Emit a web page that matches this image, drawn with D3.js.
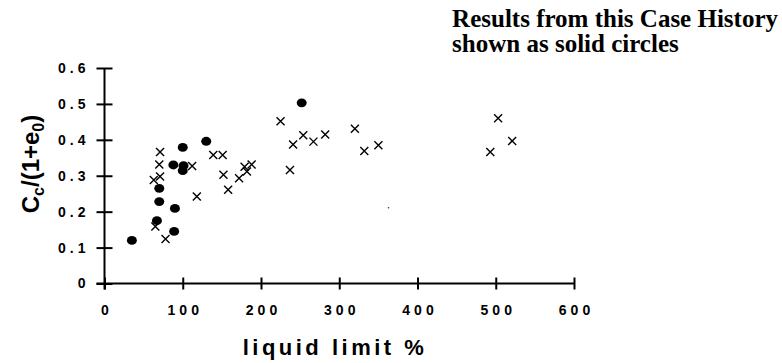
<!DOCTYPE html>
<html><head><meta charset="utf-8">
<script src="https://cdn.jsdelivr.net/npm/d3@7"></script>
<style>
html,body{margin:0;padding:0;background:#fff;}
svg{display:block;}
</style></head>
<body>
<script>
// Data
const caseLL = [35, 67, 70, 70, 89, 90, 88, 100, 101, 100, 130, 252];
const caseCc = [0.12, 0.175, 0.228, 0.265, 0.145, 0.209, 0.330, 0.379, 0.328, 0.314, 0.396, 0.503];
const otherLL = [65, 78, 63, 71, 70, 71, 112, 118, 139, 151, 152, 158, 172, 179, 182, 188, 225, 237, 241, 254, 267, 282, 320, 332, 350, 493, 503, 521];
const otherCc = [0.159, 0.124, 0.288, 0.298, 0.331, 0.366, 0.327, 0.242, 0.358, 0.358, 0.303, 0.261, 0.293, 0.325, 0.312, 0.331, 0.452, 0.316, 0.387, 0.413, 0.395, 0.415, 0.431, 0.369, 0.385, 0.366, 0.460, 0.397];
const strayLL = [363];
const strayCc = [0.211];
const xTicks = [0, 100, 200, 300, 400, 500, 600];
const yTicks = [0, 0.1, 0.2, 0.3, 0.4, 0.5, 0.6];
const yTickLabels = ["0", "0.1", "0.2", "0.3", "0.4", "0.5", "0.6"];
const titleLines = ["Results from this Case History", "shown as solid circles"];

const W = 782, H = 363;
const svg = d3.select("body").append("svg").attr("width", W).attr("height", H);

const x = d3.scaleLinear().domain([0, 600]).range([104.5, 574]);
const y = d3.scaleLinear().domain([0, 0.6]).range([283.5, 68]);

const tickFont = "'Liberation Sans', Arial, sans-serif";

// X axis
const xAxis = svg.append("g").attr("transform", `translate(0,${y(0)})`)
  .call(d3.axisBottom(x).tickValues(xTicks).tickFormat(d3.format("d")).tickSize(6).tickPadding(16));
xAxis.select(".domain").remove();
xAxis.selectAll(".tick line").attr("y1", -6).attr("y2", 6).attr("stroke", "#000").attr("stroke-width", 2);
xAxis.selectAll(".tick text").attr("font-family", tickFont).attr("font-size", 14).attr("font-weight", "bold")
  .attr("letter-spacing", "4px").attr("dx", "2px").attr("fill", "#000");
svg.append("line").attr("x1", x(0) - 8).attr("x2", x(600)).attr("y1", y(0)).attr("y2", y(0))
  .attr("stroke", "#000").attr("stroke-width", 2);

// Y axis
const yAxis = svg.append("g").attr("transform", `translate(${x(0)},0)`)
  .call(d3.axisLeft(y).tickValues(yTicks).tickFormat((d, i) => yTickLabels[i]).tickSize(8).tickPadding(11));
yAxis.select(".domain").remove();
yAxis.selectAll(".tick line").attr("x1", -8).attr("x2", 8).attr("stroke", "#000").attr("stroke-width", 2);
yAxis.selectAll(".tick text").attr("font-family", tickFont).attr("font-size", 14).attr("font-weight", "bold")
  .attr("letter-spacing", "4px").attr("dx", "4px").attr("fill", "#000");
svg.append("line").attr("x1", x(0)).attr("x2", x(0)).attr("y1", y(0) + 6).attr("y2", y(0.6))
  .attr("stroke", "#000").attr("stroke-width", 2);

// Crosses (other data)
const cs = 4;
const crosses = svg.append("g").attr("stroke", "#000").attr("stroke-width", 1.4).attr("fill", "none");
otherLL.forEach((v, i) => {
  const cx = x(v), cy = y(otherCc[i]);
  crosses.append("path").attr("d", `M${cx - cs},${cy - cs}L${cx + cs},${cy + cs}M${cx - cs},${cy + cs}L${cx + cs},${cy - cs}`);
});

// Solid circles (this case history)
svg.append("g").selectAll("ellipse").data(caseLL).join("ellipse")
  .attr("cx", d => x(d)).attr("cy", (d, i) => y(caseCc[i]))
  .attr("rx", 5).attr("ry", 4.4).attr("fill", "#000");

// stray dot
svg.append("g").selectAll("circle").data(strayLL).join("circle")
  .attr("cx", d => x(d)).attr("cy", (d, i) => y(strayCc[i])).attr("r", 0.8).attr("fill", "#333");

// X axis title
svg.append("text").attr("x", 335).attr("y", 355).attr("text-anchor", "middle")
  .attr("font-family", tickFont).attr("font-size", 22).attr("font-weight", "bold")
  .attr("letter-spacing", "3.5px").text("liquid limit %");

// Y axis title with subscripts
const yt = svg.append("text").attr("transform", `translate(39,164) rotate(-90)`)
  .attr("text-anchor", "middle").attr("font-family", tickFont).attr("font-size", 24).attr("font-weight", "bold");
yt.append("tspan").text("C");
yt.append("tspan").attr("font-size", 16).attr("dy", 5).text("c");
yt.append("tspan").attr("dy", -5).text("/(1+e");
yt.append("tspan").attr("font-size", 16).attr("dy", 5).text("0");
yt.append("tspan").attr("dy", -5).text(")");

// Title
const tl = svg.append("g").selectAll("text").data(titleLines).join("text")
  .attr("y", (d, i) => 27 + i * 25)
  .attr("font-family", "'Liberation Serif', 'Times New Roman', serif").attr("font-size", 25).attr("font-weight", "bold")
  .text(d => d);
const len1 = tl.nodes()[0].getComputedTextLength();
tl.attr("x", 778 - len1);
</script>
</body></html>
